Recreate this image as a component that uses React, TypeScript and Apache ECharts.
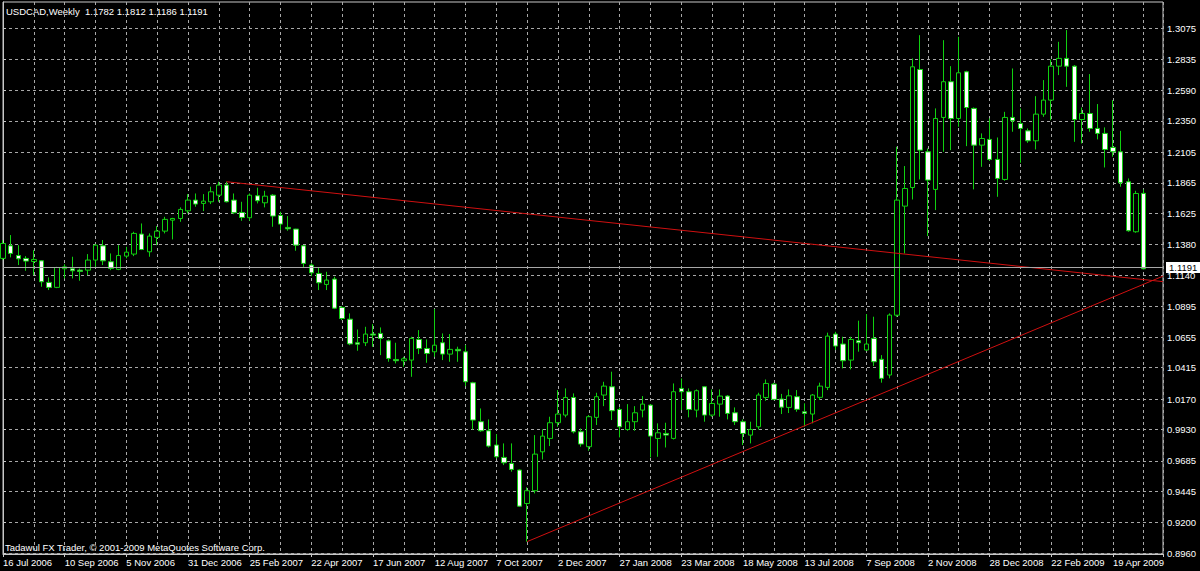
import React, { useEffect, useRef } from 'react';
import * as echarts from 'echarts';

// Weekly USDCAD candles, one per week from 16 Jul 2006 (index 0) to 17 May 2009 (index 148)
const opens = [
  1.1272, 1.1371, 1.1295, 1.1272, 1.1248, 1.1253, 1.1084, 1.1045, 1.1191, 1.1191,
  1.1180, 1.1180, 1.1259, 1.1371, 1.1246, 1.1186, 1.1290, 1.1306, 1.1463, 1.1324,
  1.1437, 1.1486, 1.1572, 1.1585, 1.1645, 1.1729, 1.1703, 1.1716, 1.1768, 1.1847,
  1.1729, 1.1632, 1.1591, 1.1763, 1.1708, 1.1768, 1.1609, 1.1515, 1.1502, 1.1371,
  1.1220, 1.1154, 1.1068, 1.1110, 1.0888, 1.0796, 1.0611, 1.0611, 1.0679, 1.0684,
  1.0626, 1.0480, 1.0470, 1.0475, 1.0637, 1.0566, 1.0540, 1.0611, 1.0522, 1.0559,
  1.0540, 1.0297, 0.9992, 0.9921, 0.9809, 0.9712, 0.9665, 0.9613, 0.9351, 0.9451,
  0.9756, 0.9861, 0.9984, 1.0044, 1.0182, 0.9913, 0.9796, 1.0026, 1.0201, 1.0266,
  1.0088, 0.9931, 0.9992, 1.0083, 1.0122, 0.9861, 0.9900, 0.9861, 1.0253, 1.0227,
  1.0083, 1.0266, 1.0044, 1.0130, 1.0193, 1.0062, 0.9992, 0.9887, 0.9952, 1.0182,
  1.0287, 1.0170, 1.0104, 1.0188, 1.0070, 1.0052, 1.0183, 1.0261, 1.0679, 1.0601,
  1.0475, 1.0627, 1.0554, 1.0645, 1.0481, 1.0358, 1.0827, 1.1682, 1.1828, 1.2753,
  1.2108, 1.1813, 1.2377, 1.2657, 1.2369, 1.2735, 1.2448, 1.2160, 1.2205, 1.2048,
  1.1891, 1.2377, 1.2330, 1.2272, 1.2194, 1.2403, 1.2513, 1.2779, 1.2840, 1.2779,
  1.2361, 1.2408, 1.2291, 1.2252, 1.2142, 1.2108, 1.1873, 1.1481, 1.1782,
];
const highs = [
  1.1416, 1.1455, 1.1376, 1.1290, 1.1337, 1.1259, 1.1123, 1.1206, 1.1227, 1.1285,
  1.1193, 1.1306, 1.1384, 1.1416, 1.1311, 1.1376, 1.1363, 1.1481, 1.1546, 1.1468,
  1.1525, 1.1598, 1.1590, 1.1672, 1.1776, 1.1781, 1.1776, 1.1834, 1.1873, 1.1873,
  1.1781, 1.1716, 1.1781, 1.1826, 1.1802, 1.1776, 1.1638, 1.1604, 1.1504, 1.1376,
  1.1233, 1.1201, 1.1167, 1.1128, 1.0898, 1.0841, 1.0715, 1.0736, 1.0757, 1.0731,
  1.0637, 1.0611, 1.0501, 1.0658, 1.0710, 1.0637, 1.0875, 1.0684, 1.0679, 1.0580,
  1.0593, 1.0305, 1.0096, 1.0010, 0.9895, 0.9822, 0.9822, 0.9618, 0.9477, 0.9887,
  0.9932, 1.0031, 1.0240, 1.0253, 1.0214, 0.9939, 1.0044, 1.0219, 1.0305, 1.0384,
  1.0104, 1.0130, 1.0114, 1.0193, 1.0130, 0.9979, 0.9984, 1.0292, 1.0331, 1.0253,
  1.0245, 1.0271, 1.0245, 1.0245, 1.0201, 1.0104, 1.0010, 0.9992, 1.0219, 1.0323,
  1.0297, 1.0210, 1.0245, 1.0240, 1.0136, 1.0209, 1.0298, 1.0690, 1.0697, 1.0658,
  1.0658, 1.0784, 1.0836, 1.0815, 1.0514, 1.0841, 1.2147, 1.1996, 1.2839, 1.3022,
  1.2134, 1.2448, 1.2983, 1.2779, 1.3009, 1.2743, 1.2455, 1.2252, 1.2369, 1.2220,
  1.2421, 1.2761, 1.2448, 1.2291, 1.2544, 1.2670, 1.2832, 1.2970, 1.3062, 1.2787,
  1.2455, 1.2717, 1.2482, 1.2299, 1.2513, 1.2272, 1.1899, 1.1802, 1.1812,
];
const lows = [
  1.1259, 1.1280, 1.1220, 1.1175, 1.1141, 1.1050, 1.1024, 1.1039, 1.1115, 1.1115,
  1.1097, 1.1141, 1.1206, 1.1220, 1.1180, 1.1180, 1.1272, 1.1290, 1.1337, 1.1285,
  1.1376, 1.1468, 1.1421, 1.1559, 1.1625, 1.1677, 1.1643, 1.1698, 1.1716, 1.1711,
  1.1619, 1.1567, 1.1567, 1.1703, 1.1672, 1.1520, 1.1494, 1.1489, 1.1332, 1.1201,
  1.1133, 1.1024, 1.1024, 1.0875, 1.0788, 1.0592, 1.0548, 1.0585, 1.0579, 1.0514,
  1.0462, 1.0449, 1.0423, 1.0344, 1.0522, 1.0454, 1.0501, 1.0475, 1.0462, 1.0462,
  1.0271, 0.9931, 0.9913, 0.9790, 0.9704, 0.9652, 0.9600, 0.9325, 0.9052, 0.9430,
  0.9696, 0.9801, 0.9952, 1.0026, 0.9900, 0.9796, 0.9764, 0.9966, 1.0114, 1.0005,
  0.9869, 0.9921, 0.9921, 1.0026, 0.9712, 0.9717, 0.9790, 0.9853, 1.0083, 1.0026,
  1.0026, 0.9992, 1.0031, 1.0031, 1.0010, 0.9966, 0.9809, 0.9822, 0.9931, 1.0156,
  1.0161, 1.0052, 1.0060, 1.0070, 0.9953, 0.9979, 1.0162, 1.0240, 1.0554, 1.0410,
  1.0402, 1.0541, 1.0548, 1.0428, 1.0298, 1.0332, 1.0814, 1.1311, 1.1734, 1.1891,
  1.1447, 1.1651, 1.2108, 1.2121, 1.2304, 1.2152, 1.1813, 1.1990, 1.2037, 1.1755,
  1.1881, 1.2265, 1.2022, 1.2178, 1.2126, 1.2382, 1.2356, 1.2709, 1.2617, 1.2186,
  1.2173, 1.2265, 1.2205, 1.1985, 1.2069, 1.1834, 1.1481, 1.1473, 1.1186,
];
const closes = [
  1.1389, 1.1311, 1.1269, 1.1251, 1.1264, 1.1089, 1.1045, 1.1201, 1.1206, 1.1175,
  1.1170, 1.1259, 1.1376, 1.1253, 1.1193, 1.1295, 1.1321, 1.1468, 1.1342, 1.1447,
  1.1486, 1.1578, 1.1585, 1.1656, 1.1729, 1.1698, 1.1721, 1.1794, 1.1847, 1.1716,
  1.1630, 1.1593, 1.1768, 1.1724, 1.1760, 1.1604, 1.1541, 1.1504, 1.1376, 1.1233,
  1.1159, 1.1081, 1.1102, 1.0882, 1.0801, 1.0602, 1.0600, 1.0679, 1.0671, 1.0645,
  1.0488, 1.0470, 1.0485, 1.0645, 1.0566, 1.0527, 1.0592, 1.0522, 1.0559, 1.0548,
  1.0305, 1.0005, 0.9921, 0.9801, 0.9717, 0.9670, 0.9618, 0.9330, 0.9451, 0.9738,
  0.9879, 0.9984, 1.0052, 1.0182, 0.9913, 0.9817, 1.0031, 1.0188, 1.0271, 1.0078,
  0.9952, 0.9992, 1.0062, 1.0130, 0.9879, 0.9905, 0.9887, 1.0227, 1.0227, 1.0088,
  1.0235, 1.0044, 1.0135, 1.0193, 1.0057, 0.9992, 0.9900, 0.9931, 1.0201, 1.0292,
  1.0167, 1.0106, 1.0195, 1.0089, 1.0057, 1.0201, 1.0271, 1.0663, 1.0585, 1.0470,
  1.0637, 1.0611, 1.0601, 1.0462, 1.0332, 1.0828, 1.1729, 1.1820, 1.2774, 1.2121,
  1.1886, 1.2369, 1.2657, 1.2369, 1.2727, 1.2455, 1.2160, 1.2212, 1.2048, 1.1899,
  1.2377, 1.2351, 1.2291, 1.2194, 1.2403, 1.2513, 1.2779, 1.2840, 1.2779, 1.2361,
  1.2408, 1.2291, 1.2252, 1.2126, 1.2108, 1.1865, 1.1489, 1.1781, 1.1191,
];

// Date labels, one every 8 weeks from index 0
const xTickLabels = [
  '16 Jul 2006', '10 Sep 2006', '5 Nov 2006', '31 Dec 2006', '25 Feb 2007',
  '22 Apr 2007', '17 Jun 2007', '12 Aug 2007', '7 Oct 2007', '2 Dec 2007',
  '27 Jan 2008', '23 Mar 2008', '18 May 2008', '13 Jul 2008', '7 Sep 2008',
  '2 Nov 2008', '28 Dec 2008', '22 Feb 2009', '19 Apr 2009',
];
const yTickLabels = [
  '0.8960', '0.9200', '0.9445', '0.9685', '0.9930', '1.0170', '1.0415', '1.0655', '1.0895',
  '1.1140', '1.1380', '1.1625', '1.1865', '1.2105', '1.2350', '1.2590', '1.2835', '1.3075',
];

const lastPrice = 1.1191;
const resistanceLine = [[29, 1.1873], [150.5, 1.1090]];
const supportLine = [[68, 0.9052], [150.5, 1.1133]];
const titleText = 'USDCAD,Weekly  1.1782 1.1812 1.1186 1.1191';
const copyrightText = 'Tadawul FX Trader, \u00a9 2001-2009 MetaQuotes Software Corp.';

const FONT = '"Liberation Sans", Arial, sans-serif';
const FS = 9.5;
const GREEN = '#10d010';
const RED = '#d01010';
const GRID_COLOR = '#a8a8a8';
const FRAME = '#c8c8c8';

export default function App() {
  const ref = useRef<HTMLDivElement>(null);

  useEffect(() => {
    if (!ref.current) return;
    const chart = echarts.init(ref.current, null, { renderer: 'svg' });
    const data = opens.map((o, i) => [i, o, closes[i], lows[i], highs[i]]);
    const yTicks = yTickLabels.map(Number);

    chart.setOption({
      animation: false,
      backgroundColor: '#000000',
      textStyle: { fontFamily: FONT },
      grid: {
        left: 3, top: 2, width: 1160, height: 552,
        show: true, borderColor: FRAME, borderWidth: 1, backgroundColor: '#000000',
      },
      xAxis: [
        {
          type: 'value', min: 0, max: 150.5, interval: 8, position: 'bottom',
          axisLine: { show: true, lineStyle: { color: FRAME } },
          axisTick: { show: true, length: 3, lineStyle: { color: FRAME } },
          axisLabel: {
            color: '#ffffff', fontSize: FS, fontFamily: FONT, margin: 3, align: 'left',
            formatter: (v: number) => {
              const k = v / 8;
              return Number.isInteger(k) && xTickLabels[k] ? xTickLabels[k] : '';
            },
          },
          splitLine: { show: false },
        },
        {
          type: 'value', min: 0, max: 150.5, interval: 4, position: 'bottom',
          axisLine: { show: false }, axisTick: { show: false }, axisLabel: { show: false },
          splitLine: { show: true, lineStyle: { color: GRID_COLOR, type: [3, 3], width: 1 } },
        },
      ],
      yAxis: {
        type: 'value', position: 'right', min: 0.8955, max: 1.3282,
        axisLine: { show: true, lineStyle: { color: FRAME } },
        axisTick: { show: true, length: 3, customValues: yTicks, lineStyle: { color: FRAME } },
        axisLabel: {
          customValues: yTicks, color: '#ffffff', fontSize: FS, fontFamily: FONT, margin: 4,
          formatter: (v: number) => v.toFixed(4),
        },
        splitLine: { show: true, lineStyle: { color: GRID_COLOR, type: [3, 3], width: 1 } },
      },
      graphic: [
        {
          type: 'text', x: 6, y: 11,
          style: { text: titleText, fill: '#ffffff', fontSize: FS, fontFamily: FONT, verticalAlign: 'middle', align: 'left' },
        },
        {
          type: 'text', x: 5, y: 547,
          style: { text: copyrightText, fill: '#ffffff', fontSize: FS, fontFamily: FONT, verticalAlign: 'middle', align: 'left' },
        },
      ],
      series: [
        {
          type: 'candlestick',
          xAxisIndex: 0, yAxisIndex: 0,
          barWidth: 5,
          data,
          itemStyle: {
            color: '#000000', color0: '#ffffff',
            borderColor: GREEN, borderColor0: GREEN, borderColorDoji: GREEN, borderWidth: 1,
          },
          markLine: {
            silent: true,
            symbol: ['none', 'none'],
            animation: false,
            data: [
              [
                { coord: resistanceLine[0], lineStyle: { color: RED, width: 1, type: 'solid' }, label: { show: false } },
                { coord: resistanceLine[1] },
              ],
              [
                { coord: supportLine[0], lineStyle: { color: RED, width: 1, type: 'solid' }, label: { show: false } },
                { coord: supportLine[1] },
              ],
              {
                yAxis: lastPrice,
                lineStyle: { color: '#a8a8a8', width: 1, type: 'solid' },
                label: {
                  show: true, position: 'end', distance: 3,
                  formatter: () => lastPrice.toFixed(4),
                  backgroundColor: '#ffffff', color: '#000000',
                  fontSize: FS, fontFamily: FONT, padding: [1, 3, 0, 3],
                },
              },
            ],
          },
        },
      ],
    });

    return () => chart.dispose();
  }, []);

  return (
    <div
      ref={ref}
      style={{ position: 'fixed', left: 0, top: 0, width: 1200, height: 571, background: '#000' }}
    />
  );
}
